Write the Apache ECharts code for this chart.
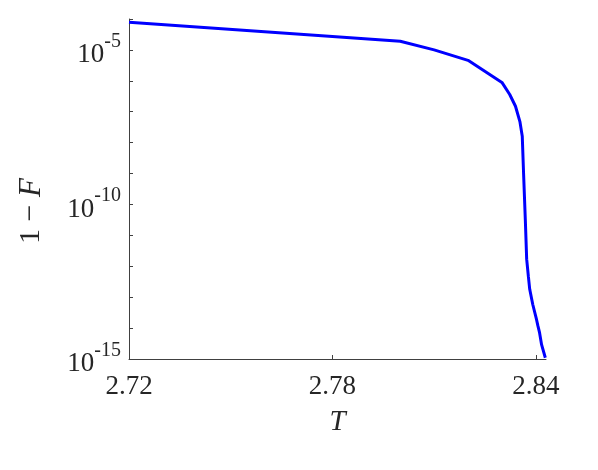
<!DOCTYPE html>
<html>
<head>
<meta charset="utf-8">
<script src="https://cdn.jsdelivr.net/npm/echarts@6/dist/echarts.min.js"></script>
<style>
  html, body { margin: 0; padding: 0; background: #fff; }
  #chart { width: 598px; height: 470px; }
</style>
</head>
<body>
<div id="chart"></div>
<script>
var temps = [2.72, 2.80, 2.81, 2.82, 2.83, 2.8323, 2.834, 2.8353, 2.836, 2.8364,
    2.8369, 2.8373, 2.8378, 2.8382, 2.8391, 2.8402, 2.8406, 2.8411, 2.8417, 2.8428];
var tail = [7.9e-5, 1.9e-5, 1.0e-5, 4.6e-6, 8.9e-7, 3.6e-7, 1.5e-7, 4.8e-8, 1.6e-8, 9.1e-10,
    3.2e-11, 1.7e-12, 4.7e-13, 1.8e-13, 5.8e-14, 1.9e-14, 1.2e-14, 7.1e-15, 2.9e-15, 1.1e-15];
var xTicks = [2.72, 2.78, 2.84];
var yTickExps = [-5, -10, -15];

var font = 'Liberation Serif';
var textColor = '#262626';
var axisColor = '#404040';

var chart = echarts.init(document.getElementById('chart'));

var points = temps.map(function (t, i) { return [t, tail[i]]; });

var option = {
    animation: false,
    grid: {
        left: 129,
        top: 19,
        right: 52,
        bottom: 111
    },
    xAxis: {
        type: 'value',
        min: 2.72,
        max: 2.843,
        interval: 0.06,
        name: 'T',
        nameLocation: 'middle',
        nameGap: 49,
        nameTextStyle: { fontFamily: font, fontStyle: 'italic', fontSize: 29, color: textColor },
        axisLine: { show: true, lineStyle: { color: axisColor, width: 1 } },
        axisTick: { show: true, inside: true, length: 4, lineStyle: { color: axisColor } },
        splitLine: { show: false },
        axisLabel: {
            fontFamily: font, fontSize: 27, color: textColor, margin: 14,
            showMaxLabel: false,
            formatter: function (v) {
                for (var i = 0; i < xTicks.length; i++) {
                    if (Math.abs(v - xTicks[i]) < 1e-6) return xTicks[i].toFixed(2);
                }
                return '';
            }
        }
    },
    yAxis: {
        type: 'log',
        logBase: 10,
        min: 1e-15,
        max: 1e-4,
        interval: 1,
        splitNumber: 11,
        name: '1 \u2212 {i|F}',
        nameLocation: 'middle',
        nameGap: 82,
        nameRotate: 90,
        nameTextStyle: {
            fontFamily: font, fontSize: 30, color: textColor,
            padding: [0, 44, 0, 0],
            rich: { i: { fontFamily: font, fontStyle: 'italic', fontSize: 31, color: textColor } }
        },
        axisLine: { show: true, lineStyle: { color: axisColor, width: 1 } },
        axisTick: { show: true, inside: true, length: 4, lineStyle: { color: axisColor } },
        splitLine: { show: false },
        axisLabel: {
            fontFamily: font, fontSize: 27, color: textColor, margin: 8,
            formatter: function (v) {
                var e = Math.round(Math.log10(v));
                if (yTickExps.indexOf(e) < 0) return '';
                return '{b|10}{s|' + e + '}';
            },
            rich: {
                b: { fontFamily: font, fontSize: 27, color: textColor, verticalAlign: 'bottom' },
                s: { fontFamily: font, fontSize: 20, color: textColor, verticalAlign: 'bottom', padding: [0, 0, 17, 0] }
            }
        }
    },
    series: [{
        type: 'line',
        data: points,
        showSymbol: false,
        lineStyle: { color: '#0000ff', width: 3 },
        itemStyle: { color: '#0000ff' }
    }]
};

chart.setOption(option);

window.onresize = function () {
    chart.resize();
};
</script>
</body>
</html>
